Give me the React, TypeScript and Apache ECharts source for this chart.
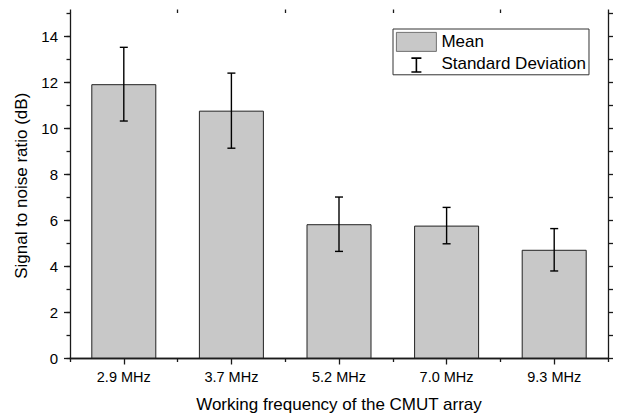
import React, { useEffect, useRef } from "react";
import * as echarts from "echarts";

const categories = ["2.9 MHz", "3.7 MHz", "5.2 MHz", "7.0 MHz", "9.3 MHz"];
const meanValues = [11.91, 10.76, 5.83, 5.77, 4.72];
const sdValues = [1.6, 1.63, 1.18, 0.79, 0.92];
const yTicks = [0, 2, 4, 6, 8, 10, 12, 14];

const FONT = "Liberation Sans, Arial, sans-serif";
const AXIS_COLOR = "#1a1a1a";

const iBeamIcon =
  "path://M0 0L0.01 0ZM40 19L40.01 19ZM15 3.5H25V5.1H20.8V17.4H25V19H15V17.4H19.2V5.1H15Z";

export default function App() {
  const ref = useRef<HTMLDivElement>(null);
  useEffect(() => {
    if (!ref.current) return;
    const chart = echarts.init(ref.current, null, { renderer: "svg" });
    const lineStyle = { color: AXIS_COLOR, width: 1.3 };
    const baseX = {
      type: "category",
      data: categories,
      boundaryGap: true,
      axisLine: { show: true, lineStyle },
      splitLine: { show: false },
    };
    const baseY = {
      type: "value",
      min: 0,
      max: 15,
      splitLine: { show: false },
    };
    chart.setOption({
      animation: false,
      textStyle: { fontFamily: FONT },
      grid: { left: 70, right: 10, top: 13, bottom: 59.5, containLabel: false },
      legend: {
        orient: "vertical",
        left: 393,
        top: 29,
        padding: [3, 3, 2, 3],
        itemGap: 2,
        itemWidth: 40,
        itemHeight: 19,
        borderColor: "#333",
        borderWidth: 1,
        textStyle: { fontSize: 17, color: "#000", fontFamily: FONT },
        data: [
          { name: "Mean", icon: "rect", itemStyle: { color: "#c8c8c8", borderColor: "#555", borderWidth: 0.8 } },
          {
            name: "Standard Deviation",
            icon: iBeamIcon,
            itemStyle: { color: "#000", borderWidth: 0 },
          },
        ],
      },
      xAxis: [
        {
          ...baseX,
          position: "bottom",
          axisTick: { show: true, alignWithLabel: true, length: 6, lineStyle },
          axisLabel: { show: true, fontSize: 14.5, color: "#000", margin: 11, fontFamily: FONT },
          name: "Working frequency of the CMUT array",
          nameLocation: "middle",
          nameGap: 37,
          nameTextStyle: { fontSize: 17, color: "#000", fontFamily: FONT },
        },
        {
          ...baseX,
          position: "bottom",
          axisLine: { show: false },
          axisTick: { show: true, alignWithLabel: false, length: 3.5, lineStyle },
          axisLabel: { show: false },
        },
        {
          ...baseX,
          position: "top",
          axisTick: { show: true, alignWithLabel: true, length: 6, lineStyle },
          axisLabel: { show: false },
        },
        {
          ...baseX,
          position: "top",
          axisLine: { show: false },
          axisTick: { show: true, alignWithLabel: false, length: 3.5, lineStyle },
          axisLabel: { show: false },
        },
      ],
      yAxis: [
        {
          ...baseY,
          position: "left",
          interval: 2,
          axisLine: { show: true, lineStyle },
          axisTick: { show: true, length: 6, lineStyle },
          axisLabel: {
            show: true,
            fontSize: 15,
            color: "#000",
            margin: 12,
            fontFamily: FONT,
            showMaxLabel: false,
            formatter: (v: number) => (yTicks.includes(v) ? String(v) : ""),
          },
          name: "Signal to noise ratio (dB)",
          nameLocation: "middle",
          nameGap: 35,
          nameTextStyle: { fontSize: 17, color: "#000", fontFamily: FONT },
        },
        {
          ...baseY,
          position: "left",
          interval: 1,
          axisLine: { show: false },
          axisTick: { show: true, length: 3.5, lineStyle },
          axisLabel: { show: false },
        },
        {
          ...baseY,
          position: "right",
          interval: 1,
          axisLine: { show: true, lineStyle },
          axisTick: { show: true, length: 5, lineStyle },
          axisLabel: { show: false },
        },
      ],
      series: [
        {
          name: "Mean",
          type: "bar",
          xAxisIndex: 0,
          yAxisIndex: 0,
          barWidth: 65,
          z: 2,
          data: meanValues,
          itemStyle: { color: "#c8c8c8", borderColor: "#222", borderWidth: 1 },
        },
        {
          name: "Standard Deviation",
          type: "custom",
          xAxisIndex: 0,
          yAxisIndex: 0,
          z: 5,
          itemStyle: { color: "#000" },
          data: categories.map((_, i) => [i, meanValues[i], sdValues[i]]),
          renderItem: (params: any, api: any) => {
            const x = api.value(0);
            const m = api.value(1);
            const sd = api.value(2);
            const hi = api.coord([x, m + sd]);
            const lo = api.coord([x, m - sd]);
            const hw = 4;
            const st = { stroke: "#000", lineWidth: 1.4 };
            return {
              type: "group",
              children: [
                { type: "line", shape: { x1: hi[0], y1: hi[1], x2: lo[0], y2: lo[1] }, style: st },
                { type: "line", shape: { x1: hi[0] - hw, y1: hi[1], x2: hi[0] + hw, y2: hi[1] }, style: st },
                { type: "line", shape: { x1: lo[0] - hw, y1: lo[1], x2: lo[0] + hw, y2: lo[1] }, style: st },
              ],
            };
          },
        },
      ],
    });
    return () => chart.dispose();
  }, []);
  return <div ref={ref} style={{ width: 618, height: 418, position: "absolute", left: 0, top: 0 }} />;
}
